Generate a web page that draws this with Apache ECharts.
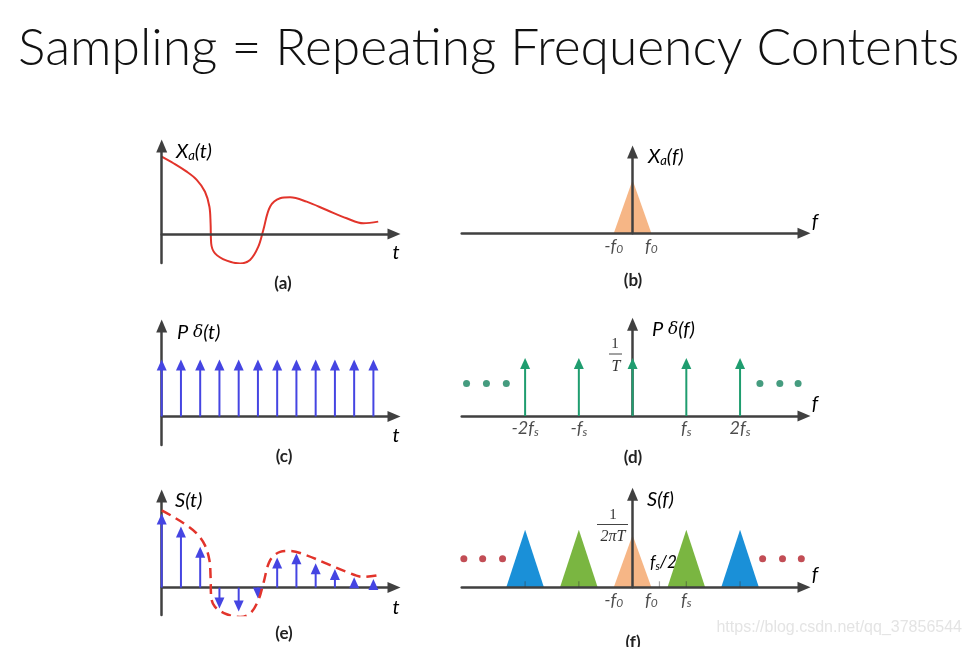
<!DOCTYPE html>
<html><head><meta charset="utf-8">
<script src="https://cdn.jsdelivr.net/npm/echarts@6/dist/echarts.min.js"></script>
<style>html,body{margin:0;padding:0;background:#fff}#c{width:973px;height:647px}</style>
</head><body><div id="c"></div><script>
// ---------- data ----------
const titleText = 'Sampling = Repeating Frequency Contents';
const captions = ['(a)', '(b)', '(c)', '(d)', '(e)', '(f)'];
// analog signal x_a(t), t in sample periods
const curveT = [0, 0.61, 1.30, 1.82, 2.25, 2.48, 2.54, 2.57, 2.77, 3.38, 4.07, 4.59, 5.02, 5.28, 5.63, 6.15, 6.67, 7.53, 8.57, 9.61, 10.48, 11.25];
const curveX = [1.0, 0.915, 0.806, 0.70, 0.547, 0.353, 0.138, -0.12, -0.25, -0.345, -0.38, -0.336, -0.164, 0.052, 0.353, 0.462, 0.475, 0.418, 0.31, 0.203, 0.138, 0.16];
// sample instants and sampled values s(t)
const sampleN = [0, 1, 2, 3, 4, 5, 6, 7, 8, 9, 10, 11];
const sampleVal = [0.96, 0.79, 0.53, -0.27, -0.31, -0.14, 0.39, 0.445, 0.315, 0.24, 0.135, 0.11];
// impulse train p_delta(t)
const combVal = [0.74, 0.74, 0.74, 0.74, 0.74, 0.74, 0.74, 0.74, 0.74, 0.74, 0.74, 0.74];
// spectrum of impulse train (in units of fs)
const combF = [-2, -1, 0, 1, 2];
const combFVal = [1, 1, 1, 1, 1];
const dotsDF = [-3.09, -2.72, -2.35, 2.37, 2.74, 3.08];
const dotsDY = [0.56, 0.56, 0.56, 0.56, 0.56, 0.56];
// band-limited spectrum
const f0 = 0.35;
const baseHeight = 0.92;
const replicaCenters = [-2, -1, 0, 1, 2];
const replicaHeights = [0.99, 0.99, 0.9, 0.99, 0.99];
const replicaColors = ['#1a90d8', '#7ab641', '#f6b686', '#7ab641', '#1a90d8'];
const dotsFF = [-3.14, -2.79, -2.42, 2.42, 2.79, 3.14];
const dotsFY = [0.49, 0.49, 0.49, 0.49, 0.49, 0.49];
const smallTicksF = [-2, -1, 0.5, 1, 2];
// tick labels
const ticksB = [[-0.35, '-f0'], [0.35, 'f0']];
const ticksD = [[-2, '-2fs'], [-1, '-fs'], [1, 'fs'], [2, '2fs']];
const ticksF = [[-0.35, '-f0'], [0.35, 'f0'], [1, 'fs']];

// ---------- styles ----------
const AX = '#404040';
const BLUE = '#4545e2';
const GREEN = '#1f9d6f';
const LBL = 'Lato, "Open Sans", sans-serif';

const grids = [
  {left: 161.7, width: 232.3, top: 146, height: 117},   // a
  {left: 461.7, width: 342.3, top: 152, height: 81.3},  // b
  {left: 161.7, width: 232.3, top: 326, height: 119},   // c
  {left: 461.7, width: 342.3, top: 324.3, height: 91.7},// d
  {left: 161.7, width: 232.3, top: 496, height: 119},   // e
  {left: 461.7, width: 342.3, top: 494.3, height: 93}   // f
];
const ranges = [
  [0, 12.07, -0.375, 1.138],
  [-3.18, 3.19, 0, 1.402],
  [0, 12.07, -0.37, 1.173],
  [-3.18, 3.19, 0, 1.581],
  [0, 12.07, -0.355, 1.186],
  [-3.18, 3.19, 0, 1.603]
];
const axLine = {show: true, onZero: true, symbol: ['none', 'triangle'], symbolSize: [11, 13],
  lineStyle: {color: AX, width: 2.5}};
const hidden = {axisTick: {show: false}, axisLabel: {show: false}, splitLine: {show: false}};
const xAxes = ranges.map((r, i) => Object.assign({type: 'value', gridIndex: i, min: r[0], max: r[1], axisLine: axLine, z: 10}, hidden));
const yAxes = ranges.map((r, i) => Object.assign({type: 'value', gridIndex: i, min: r[2], max: r[3], axisLine: axLine, z: 10}, hidden));

function impulseRender(color) {
  return function (params, api) {
    const x = api.value(0), v = api.value(1);
    const p0 = api.coord([x, 0]), p1 = api.coord([x, v]);
    const d = v >= 0 ? 1 : -1, hl = 11, hw = 5;
    return {type: 'group', children: [
      {type: 'line', shape: {x1: p0[0], y1: p0[1], x2: p1[0], y2: p1[1] + d * hl * 0.6}, style: {stroke: color, lineWidth: 2}},
      {type: 'polygon', shape: {points: [[p1[0], p1[1]], [p1[0] - hw, p1[1] + d * hl], [p1[0] + hw, p1[1] + d * hl]]}, style: {fill: color}}
    ]};
  };
}
function triRender(colors) {
  return function (params, api) {
    const c = api.value(0), h = api.value(1), w = api.value(2);
    return {type: 'polygon', shape: {points: [api.coord([c - w, 0]), api.coord([c, h]), api.coord([c + w, 0])]},
      style: {fill: colors[params.dataIndex]}};
  };
}
function tickRender(params, api) {
  const p = api.coord([api.value(0), 0]);
  return {type: 'line', shape: {x1: p[0], y1: p[1], x2: p[0], y2: p[1] - 6}, style: {stroke: 'rgba(60,60,60,0.45)', lineWidth: 1.2}};
}
const richLbl = {
  i: {fontFamily: LBL, fontStyle: 'italic', fontSize: 18, color: '#1e1e1e'},
  s: {fontFamily: LBL, fontStyle: 'italic', fontSize: 12, color: '#1e1e1e', padding: [7, 0, 0, 0]}
};
function fmtTick(t) {
  const idx = t.indexOf('f');
  return '{i|' + t.slice(0, idx + 1) + '}{s|' + t.slice(idx + 1) + '}';
}
function tickSeries(gi, ticks, dist) {
  return {type: 'scatter', xAxisIndex: gi, yAxisIndex: gi, symbolSize: 0, silent: true,
    data: ticks.map(t => ({value: [t[0], 0], name: t[1]})),
    label: {show: true, position: 'bottom', distance: dist, color: '#1e1e1e', formatter: p => fmtTick(p.name), rich: richLbl}};
}

const series = [
  // (a) analog signal
  {type: 'line', xAxisIndex: 0, yAxisIndex: 0, smooth: 0.35, showSymbol: false, silent: true,
    data: curveT.map((t, i) => [t, curveX[i]]), lineStyle: {color: '#e2342b', width: 2}},
  // (b) baseband spectrum
  {type: 'custom', xAxisIndex: 1, yAxisIndex: 1, renderItem: triRender(['#f6b686']), z: 2,
    data: [[0, baseHeight, f0]]},
  tickSeries(1, ticksB, 3),
  // (c) impulse train
  {type: 'custom', xAxisIndex: 2, yAxisIndex: 2, renderItem: impulseRender(BLUE), z: 20,
    data: sampleN.map((n, i) => [n, combVal[i]])},
  // (d) spectrum of impulse train
  {type: 'custom', xAxisIndex: 3, yAxisIndex: 3, renderItem: impulseRender(GREEN), z: 20,
    data: combF.map((f, i) => [f, combFVal[i]])},
  {type: 'scatter', xAxisIndex: 3, yAxisIndex: 3, symbolSize: 7, silent: true, itemStyle: {color: '#17835f'},
    data: dotsDF.map((f, i) => [f, dotsDY[i]])},
  tickSeries(3, ticksD, 3),
  // (e) sampled signal
  {type: 'custom', xAxisIndex: 4, yAxisIndex: 4, renderItem: impulseRender(BLUE), z: 20,
    data: sampleN.map((n, i) => [n, sampleVal[i]])},
  {type: 'line', xAxisIndex: 4, yAxisIndex: 4, smooth: 0.35, showSymbol: false, silent: true, z: 25,
    data: curveT.map((t, i) => [t, curveX[i]]), lineStyle: {color: '#e2342b', width: 2.5, type: [10, 6]}},
  // (f) repeated spectrum
  {type: 'custom', xAxisIndex: 5, yAxisIndex: 5, renderItem: triRender(replicaColors), z: 2,
    data: replicaCenters.map((c, i) => [c, replicaHeights[i], f0])},
  {type: 'custom', xAxisIndex: 5, yAxisIndex: 5, renderItem: tickRender, z: 12,
    data: smallTicksF.map(f => [f, 0])},
  {type: 'scatter', xAxisIndex: 5, yAxisIndex: 5, symbolSize: 7, silent: true, itemStyle: {color: '#b3202b'},
    data: dotsFF.map((f, i) => [f, dotsFY[i]])},
  tickSeries(5, ticksF, 3)
];

// ---------- text annotations ----------
const ital = (x, y, rich, text, align) => ({type: 'text', x: x, y: y, silent: true,
  style: {text: text, rich: rich, align: align || 'left', verticalAlign: 'middle'}});
const titleRich = {
  i: {fontFamily: LBL, fontStyle: 'italic', fontSize: 20, color: '#262626'},
  s: {fontFamily: LBL, fontStyle: 'italic', fontSize: 13, color: '#262626', padding: [8, 0, 0, 0]},
  d: {fontFamily: '"DejaVu Serif", serif', fontStyle: 'italic', fontSize: 17, color: '#262626'}
};
const capStyle = t => ({text: t, fontFamily: LBL, fontWeight: 'bold', fontSize: 17, fill: '#222', align: 'center', verticalAlign: 'middle'});
const serif = '"Liberation Serif", "DejaVu Serif", serif';
const graphics = [
  {type: 'text', x: 18, y: 48, silent: true, style: {text: titleText, fontFamily: LBL, fontWeight: 300, fontSize: 51.5, fill: '#111', verticalAlign: 'middle'}},
  ital(176, 152, titleRich, '{i|X}{s|a}{i|(t)}'),
  ital(648, 157, titleRich, '{i|X}{s|a}{i|(f)}'),
  ital(177, 333, titleRich, '{i|P }{d|δ}{i|(t)}'),
  ital(652, 330, titleRich, '{i|P }{d|δ}{i|(f)}'),
  ital(175, 501, titleRich, '{i|S(t)}'),
  ital(647, 500, titleRich, '{i|S(f)}'),
  ital(396, 253, titleRich, '{i|t}', 'center'),
  ital(396, 436, titleRich, '{i|t}', 'center'),
  ital(396, 608, titleRich, '{i|t}', 'center'),
  ital(815, 222, titleRich, '{i|f}', 'center'),
  ital(815, 404, titleRich, '{i|f}', 'center'),
  ital(815, 575, titleRich, '{i|f}', 'center'),
  {type: 'text', x: 283, y: 284, silent: true, style: capStyle(captions[0])},
  {type: 'text', x: 633, y: 281, silent: true, style: capStyle(captions[1])},
  {type: 'text', x: 284, y: 457, silent: true, style: capStyle(captions[2])},
  {type: 'text', x: 633, y: 458, silent: true, style: capStyle(captions[3])},
  {type: 'text', x: 284, y: 634, silent: true, style: capStyle(captions[4])},
  {type: 'text', x: 633, y: 643, silent: true, style: capStyle(captions[5])},
  // 1/T
  {type: 'text', x: 615, y: 344, silent: true, style: {text: '1', fontFamily: serif, fontSize: 15, fill: '#333', align: 'center', verticalAlign: 'middle'}},
  {type: 'line', silent: true, shape: {x1: 609, y1: 354, x2: 622, y2: 354}, style: {stroke: '#444', lineWidth: 1}},
  {type: 'text', x: 616, y: 367, silent: true, style: {text: 'T', fontFamily: serif, fontStyle: 'italic', fontSize: 16, fill: '#333', align: 'center', verticalAlign: 'middle'}},
  // 1/(2πT)
  {type: 'text', x: 613, y: 515, silent: true, style: {text: '1', fontFamily: serif, fontSize: 15, fill: '#333', align: 'center', verticalAlign: 'middle'}},
  {type: 'line', silent: true, shape: {x1: 597, y1: 524.5, x2: 628, y2: 524.5}, style: {stroke: '#444', lineWidth: 1}},
  {type: 'text', x: 613, y: 537, silent: true, style: {text: '2πT', fontFamily: serif, fontStyle: 'italic', fontSize: 16, fill: '#333', align: 'center', verticalAlign: 'middle'}},
  // fs/2
  ital(650, 563, {i: {fontFamily: LBL, fontStyle: 'italic', fontSize: 17, color: '#262626'}, s: {fontFamily: LBL, fontStyle: 'italic', fontSize: 11, color: '#262626', padding: [7, 0, 0, 0]}}, '{i|f}{s|s}{i|/2}'),
  // watermark
  {type: 'text', x: 962, y: 628, silent: true, style: {text: 'https://blog.csdn.net/qq_37856544', fontFamily: '"Liberation Sans", Arial, sans-serif', fontSize: 16, fill: '#e4e4e4', align: 'right', verticalAlign: 'middle'}}
];

const chart = echarts.init(document.getElementById('c'), null, {renderer: 'canvas'});
chart.setOption({
  animation: false,
  backgroundColor: '#ffffff',
  grid: grids.map(g => Object.assign({containLabel: false}, g)),
  xAxis: xAxes,
  yAxis: yAxes,
  series: series,
  graphic: graphics
});
</script></body></html>
